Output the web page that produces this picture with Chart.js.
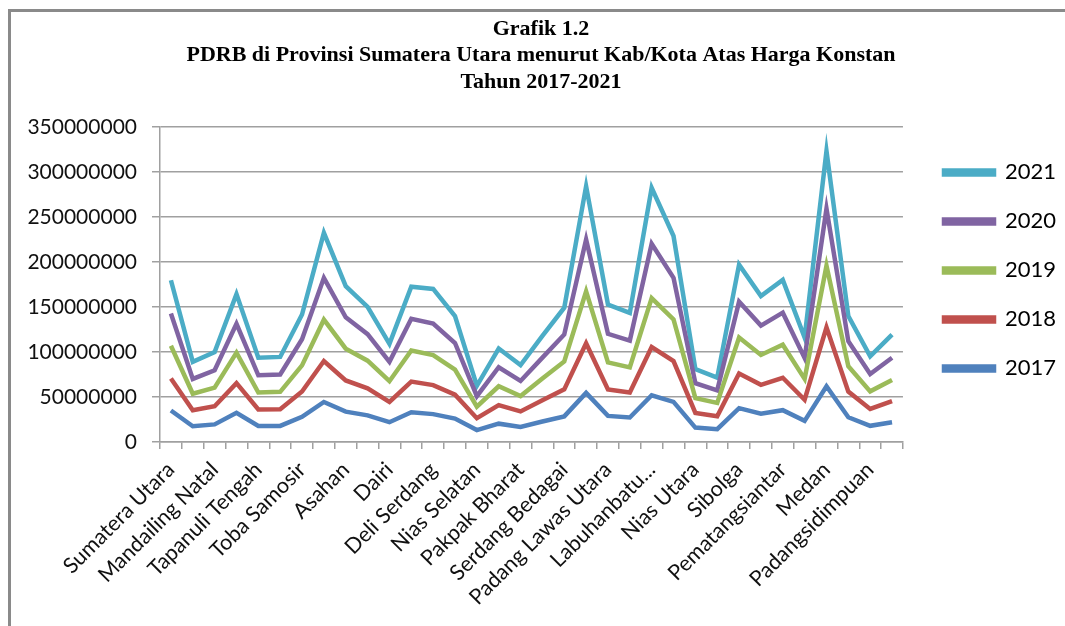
<!DOCTYPE html>
<html lang="id">
<head>
    <meta charset="UTF-8">
    <title>PDRB Kab/Kota Sumatera Utara 2017-2021</title>
    <script src="https://cdn.jsdelivr.net/npm/chart.js"></script>
    <style>
        body {
            margin: 0;
            background: #fff;
        }
        .wrap {
            position: relative;
            width: 1065px;
            height: 626px;
        }
        .frame {
            position: absolute;
            left: 8px;
            top: 9px;
            right: -10px;
            bottom: -10px;
            border-left: 3px solid #8a8a8a;
            border-top: 3px solid #8a8a8a;
            pointer-events: none;
        }
        canvas {
            position: absolute;
            left: 0;
            top: 0;
        }
    </style>
</head>
<body>
    <div class="wrap">
        <canvas id="pdrbChart" width="1065" height="626"></canvas>
        <div class="frame"></div>
    </div>

    <script>
        // Kabupaten/kota (urutan sesuai sumbu X)
        const wilayah = [
            'Sumatera Utara', 'Nias', 'Mandailing Natal', 'Tapanuli Selatan', 'Tapanuli Tengah',
            'Tapanuli Utara', 'Toba Samosir', 'Labuhanbatu', 'Asahan', 'Simalungun', 'Dairi',
            'Karo', 'Deli Serdang', 'Langkat', 'Nias Selatan', 'Humbang Hasundutan',
            'Pakpak Bharat', 'Samosir', 'Serdang Bedagai', 'Batu Bara', 'Padang Lawas Utara',
            'Padang Lawas', 'Labuhanbatu Selatan', 'Labuhanbatu Utara', 'Nias Utara',
            'Nias Barat', 'Sibolga', 'Tanjungbalai', 'Pematangsiantar', 'Tebing Tinggi',
            'Medan', 'Binjai', 'Padangsidimpuan', 'Gunungsitoli'
        ];

        // PDRB atas harga konstan per tahun
        const pdrb2017 = [35.0e6, 17.5e6, 19.6e6, 32.4e6, 17.8e6, 17.9e6, 28.0e6, 44.5e6, 33.8e6, 29.6e6, 22.0e6,
            33.0e6, 31.0e6, 26.0e6, 13.3e6, 20.4e6, 16.8e6, 22.8e6, 28.5e6, 54.6e6, 29.0e6,
            27.2e6, 52.0e6, 44.6e6, 16.0e6, 14.2e6, 37.6e6, 31.4e6, 35.4e6, 23.5e6,
            62.0e6, 27.5e6, 18.0e6, 22.0e6];
        const pdrb2018 = [35.5e6, 17.8e6, 20.2e6, 33.0e6, 18.4e6, 18.6e6, 28.2e6, 45.5e6, 34.6e6, 30.0e6, 22.6e6,
            34.2e6, 32.3e6, 26.6e6, 13.2e6, 20.6e6, 17.2e6, 23.5e6, 30.0e6, 55.2e6, 29.5e6,
            27.8e6, 53.5e6, 45.4e6, 16.3e6, 14.5e6, 38.6e6, 32.2e6, 36.0e6, 23.5e6,
            65.5e6, 28.5e6, 18.8e6, 23.4e6];
        const pdrb2019 = [36.5e6, 18.3e6, 20.6e6, 34.0e6, 18.8e6, 19.3e6, 29.0e6, 46.0e6, 35.4e6, 30.8e6, 23.0e6,
            34.5e6, 33.3e6, 28.0e6, 12.8e6, 21.0e6, 17.0e6, 24.2e6, 31.0e6, 57.8e6, 30.0e6,
            28.0e6, 54.5e6, 46.2e6, 16.5e6, 14.8e6, 40.0e6, 33.2e6, 36.8e6, 23.2e6,
            68.5e6, 28.2e6, 19.5e6, 23.4e6];
        const pdrb2020 = [35.8e6, 16.5e6, 19.4e6, 32.0e6, 19.2e6, 19.2e6, 29.0e6, 46.5e6, 34.8e6, 29.5e6, 21.5e6,
            35.3e6, 35.2e6, 29.5e6, 11.6e6, 21.1e6, 16.9e6, 23.3e6, 30.0e6, 57.5e6, 31.8e6,
            29.8e6, 60.5e6, 46.4e6, 16.6e6, 14.0e6, 39.8e6, 32.6e6, 35.6e6, 23.2e6,
            63.5e6, 27.8e6, 19.3e6, 24.8e6];
        const pdrb2021 = [37.0e6, 19.0e6, 20.3e6, 33.0e6, 19.5e6, 19.6e6, 27.5e6, 50.0e6, 34.7e6, 30.3e6, 20.0e6,
            35.6e6, 38.4e6, 29.8e6, 11.6e6, 20.8e6, 17.6e6, 24.1e6, 29.8e6, 59.3e6, 32.6e6,
            30.8e6, 62.0e6, 46.4e6, 15.6e6, 14.0e6, 41.2e6, 32.8e6, 36.4e6, 22.8e6,
            64.0e6, 28.0e6, 19.6e6, 25.8e6];

        const tahun = ['2017', '2018', '2019', '2020', '2021'];
        const warna = ['#4F81BD', '#C0504D', '#9BBB59', '#8064A2', '#4BACC6'];
        const seri = [pdrb2017, pdrb2018, pdrb2019, pdrb2020, pdrb2021];

        // geser legenda & judul setelah layout dihitung
        const aturPosisi = {
            id: 'aturPosisi',
            afterLayout(chart) {
                const lg = chart.legend;
                const w = lg.right - lg.left;
                lg.left = 944 - lg.options.labels.padding;
                lg.right = lg.left + w;
                const tb = chart.titleBlock;
                tb.left = 20;
                tb.right = 1062;
            }
        };

        const ctx = document.getElementById('pdrbChart').getContext('2d');

        new Chart(ctx, {
            type: 'line',
            data: {
                labels: wilayah,
                datasets: seri.map((d, i) => ({
                    label: tahun[i],
                    data: d,
                    borderColor: warna[i],
                    backgroundColor: warna[i],
                    borderWidth: 4.5,
                    pointRadius: 0,
                    tension: 0,
                    fill: false
                }))
            },
            plugins: [aturPosisi],
            options: {
                responsive: false,
                animation: false,
                layout: {
                    padding: { left: 20, right: 13, top: 0, bottom: 0 }
                },
                plugins: {
                    title: {
                        display: true,
                        text: [
                            'Grafik 1.2',
                            'PDRB di Provinsi Sumatera Utara menurut Kab/Kota Atas Harga Konstan',
                            'Tahun 2017-2021'
                        ],
                        color: '#000',
                        font: { family: 'Liberation Serif', size: 22, weight: 'bold', lineHeight: 1.2 },
                        padding: { top: 16, bottom: 32 }
                    },
                    legend: {
                        position: 'right',
                        align: 'start',
                        reverse: true,
                        title: { display: true, text: ' ', padding: 60 },
                        labels: {
                            boxWidth: 50,
                            boxHeight: 4,
                            padding: 27,
                            color: '#000',
                            font: { family: 'Lato', size: 22 }
                        }
                    },
                    tooltip: { enabled: false }
                },
                scales: {
                    x: {
                        offset: true,
                        afterFit: (axis) => { axis.height = 184; },
                        grid: {
                            offset: true,
                            drawOnChartArea: false,
                            tickLength: 7,
                            color: '#a0a0a0',
                            lineWidth: 1.5
                        },
                        border: { color: '#a0a0a0', width: 1.5 },
                        ticks: {
                            autoSkip: false,
                            minRotation: 45,
                            maxRotation: 45,
                            padding: 8,
                            color: '#111',
                            font: { family: 'Lato', size: 21.5 },
                            callback: function (value, index) {
                                if (index % 2 !== 0) return '';
                                const nama = this.getLabelForValue(value);
                                return nama.length > 18 ? nama.split(' ')[0] + '...' : nama;
                            }
                        }
                    },
                    y: {
                        stacked: true,
                        min: 0,
                        max: 350000000,
                        afterFit: (axis) => { axis.width = 140; },
                        grid: {
                            color: '#a0a0a0',
                            lineWidth: 1.5,
                            tickLength: 8
                        },
                        border: { color: '#a0a0a0', width: 1.5 },
                        ticks: {
                            stepSize: 50000000,
                            padding: 15,
                            color: '#111',
                            font: { family: 'Lato', size: 21 },
                            callback: (v) => String(v)
                        }
                    }
                }
            }
        });
    </script>
</body>
</html>
